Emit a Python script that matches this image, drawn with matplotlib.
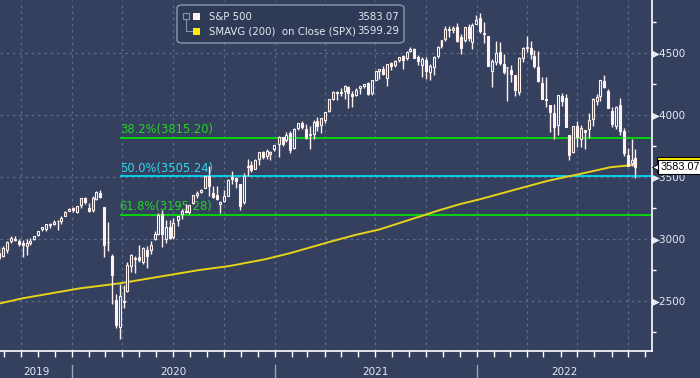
import numpy as np
import pandas as pd
import matplotlib
matplotlib.use("Agg")
import matplotlib.pyplot as plt
import matplotlib.dates as mdates
from matplotlib.patches import FancyBboxPatch, Rectangle
from matplotlib.ticker import MultipleLocator
import matplotlib.transforms as mtrans

# weekly S&P 500 candles (week ending)
dates = ["2019-08-23", "2019-08-30", "2019-09-06", "2019-09-13", "2019-09-20", "2019-09-27",
         "2019-10-04", "2019-10-11", "2019-10-18", "2019-10-25", "2019-11-01", "2019-11-08",
         "2019-11-15", "2019-11-22", "2019-11-29", "2019-12-06", "2019-12-13", "2019-12-20",
         "2019-12-27",
         "2020-01-03", "2020-01-10", "2020-01-17", "2020-01-24", "2020-01-31", "2020-02-07",
         "2020-02-14", "2020-02-21", "2020-02-28", "2020-03-06", "2020-03-13", "2020-03-20",
         "2020-03-27", "2020-04-03", "2020-04-09", "2020-04-17", "2020-04-24", "2020-05-01",
         "2020-05-08", "2020-05-15", "2020-05-22", "2020-05-29", "2020-06-05", "2020-06-12",
         "2020-06-19", "2020-06-26", "2020-07-02", "2020-07-10", "2020-07-17", "2020-07-24",
         "2020-07-31", "2020-08-07", "2020-08-14", "2020-08-21", "2020-08-28", "2020-09-04",
         "2020-09-11", "2020-09-18", "2020-09-25", "2020-10-02", "2020-10-09", "2020-10-16",
         "2020-10-23", "2020-10-30", "2020-11-06", "2020-11-13", "2020-11-20", "2020-11-27",
         "2020-12-04", "2020-12-11", "2020-12-18", "2020-12-24", "2020-12-31",
         "2021-01-08", "2021-01-15", "2021-01-22", "2021-01-29", "2021-02-05", "2021-02-12",
         "2021-02-19", "2021-02-26", "2021-03-05", "2021-03-12", "2021-03-19", "2021-03-26",
         "2021-04-01", "2021-04-09", "2021-04-16", "2021-04-23", "2021-04-30", "2021-05-07",
         "2021-05-14", "2021-05-21", "2021-05-28", "2021-06-04", "2021-06-11", "2021-06-18",
         "2021-06-25", "2021-07-02", "2021-07-09", "2021-07-16", "2021-07-23", "2021-07-30",
         "2021-08-06", "2021-08-13", "2021-08-20", "2021-08-27", "2021-09-03", "2021-09-10",
         "2021-09-17", "2021-09-24", "2021-10-01", "2021-10-08", "2021-10-15", "2021-10-22",
         "2021-10-29", "2021-11-05", "2021-11-12", "2021-11-19", "2021-11-26", "2021-12-03",
         "2021-12-10", "2021-12-17", "2021-12-23", "2021-12-31",
         "2022-01-07", "2022-01-14", "2022-01-21", "2022-01-28", "2022-02-04", "2022-02-11",
         "2022-02-18", "2022-02-25", "2022-03-04", "2022-03-11", "2022-03-18", "2022-03-25",
         "2022-04-01", "2022-04-08", "2022-04-14", "2022-04-22", "2022-04-29", "2022-05-06",
         "2022-05-13", "2022-05-20", "2022-05-27", "2022-06-03", "2022-06-10", "2022-06-17",
         "2022-06-24", "2022-07-01", "2022-07-08", "2022-07-15", "2022-07-22", "2022-07-29",
         "2022-08-05", "2022-08-12", "2022-08-19", "2022-08-26", "2022-09-02", "2022-09-09",
         "2022-09-16", "2022-09-23", "2022-09-30", "2022-10-07", "2022-10-14"]

opens = [2890, 2866, 2910, 2980, 3002, 2984, 2968, 2944, 2967, 2996, 3036, 3078, 3081, 3122, 3117,
         3144, 3142, 3183, 3227,
         3247, 3218, 3271, 3334, 3248, 3236, 3319, 3369, 3258, 2974, 2864, 2508, 2290, 2498, 2578,
         2782, 2845, 2855, 2815, 2915, 2913, 3004, 3038, 3199, 3000, 3094, 3018, 3155, 3201, 3224,
         3219, 3288, 3356, 3380, 3410, 3508, 3371, 3357, 3285, 3310, 3349, 3500, 3493, 3441, 3296,
         3584, 3600, 3567, 3645, 3699, 3666, 3684, 3723,
         3764, 3824, 3796, 3857, 3731, 3892, 3939, 3886, 3842, 3844, 3949, 3916, 3963, 4034, 4125,
         4183, 4185, 4191, 4228, 4169, 4159, 4216, 4230, 4255, 4174, 4285, 4352, 4372, 4296, 4417,
         4406, 4443, 4474, 4458, 4513, 4535, 4470, 4403, 4441, 4348, 4386, 4474, 4553, 4610, 4697,
         4689, 4712, 4628, 4602, 4713, 4587, 4733,
         4779, 4655, 4637, 4356, 4431, 4505, 4412, 4384, 4364, 4323, 4188, 4462, 4541, 4540, 4474,
         4385, 4255, 4130, 4081, 4013, 3920, 4153, 4134, 3838, 3700, 3913, 3804, 3880, 3883, 3966,
         4113, 4155, 4274, 4195, 4034, 3910, 4084, 3874, 3674, 3610, 3655]

highs = [2939, 2940, 2985, 3021, 3022, 3002, 2993, 3000, 3008, 3028, 3067, 3097, 3120, 3127, 3154,
         3150, 3183, 3226, 3248,
         3258, 3267, 3330, 3338, 3293, 3348, 3385, 3393, 3259, 3137, 2882, 2553, 2637, 2631, 2818,
         2880, 2865, 2955, 2939, 2945, 2981, 3068, 3211, 3233, 3155, 3155, 3166, 3187, 3238, 3280,
         3272, 3352, 3388, 3400, 3509, 3588, 3425, 3429, 3306, 3399, 3482, 3550, 3502, 3441, 3529,
         3646, 3628, 3645, 3700, 3713, 3726, 3711, 3760,
         3827, 3826, 3861, 3870, 3894, 3937, 3950, 3928, 3915, 3960, 3983, 3978, 4020, 4130, 4191,
         4194, 4219, 4238, 4237, 4190, 4214, 4234, 4249, 4262, 4286, 4356, 4372, 4394, 4415, 4429,
         4440, 4470, 4482, 4513, 4546, 4536, 4485, 4466, 4466, 4415, 4476, 4559, 4608, 4718, 4714,
         4718, 4743, 4652, 4713, 4732, 4740, 4808,
         4819, 4749, 4638, 4453, 4595, 4590, 4489, 4385, 4402, 4323, 4465, 4546, 4637, 4593, 4521,
         4513, 4308, 4308, 4082, 4091, 4158, 4177, 4169, 3839, 3913, 3950, 3918, 3880, 4013, 4140,
         4167, 4280, 4325, 4212, 4062, 4076, 4139, 3899, 3736, 3806, 3725]

lows = [2834, 2853, 2891, 2964, 2985, 2946, 2856, 2874, 2952, 2991, 3023, 3066, 3068, 3091, 3115,
        3071, 3124, 3183, 3222,
        3214, 3213, 3253, 3280, 3214, 3215, 3316, 3328, 2855, 2902, 2478, 2281, 2192, 2446, 2574,
        2731, 2727, 2816, 2798, 2766, 2878, 2989, 3031, 2936, 2965, 3004, 3000, 3102, 3163, 3206,
        3200, 3284, 3331, 3367, 3410, 3349, 3329, 3313, 3210, 3297, 3345, 3441, 3415, 3234, 3279,
        3511, 3543, 3567, 3594, 3646, 3648, 3636, 3710,
        3663, 3750, 3782, 3694, 3725, 3879, 3885, 3806, 3723, 3805, 3871, 3853, 3939, 4020, 4118,
        4118, 4151, 4128, 4057, 4062, 4150, 4167, 4220, 4165, 4165, 4280, 4289, 4321, 4233, 4360,
        4385, 4431, 4367, 4443, 4505, 4457, 4406, 4305, 4288, 4279, 4323, 4456, 4537, 4595, 4630,
        4660, 4585, 4495, 4590, 4600, 4531, 4733,
        4662, 4582, 4395, 4223, 4405, 4401, 4327, 4115, 4267, 4157, 4161, 4424, 4507, 4450, 4381,
        4267, 4129, 4063, 3859, 3810, 3838, 4074, 3900, 3637, 3690, 3740, 3744, 3722, 3818, 3910,
        4079, 4113, 4218, 4057, 3907, 3888, 3838, 3673, 3585, 3585, 3491]

closes = [2847, 2926, 2979, 3007, 2992, 2961, 2952, 2970, 2986, 3023, 3067, 3093, 3120, 3110, 3141,
          3146, 3169, 3221, 3240,
          3235, 3265, 3330, 3295, 3226, 3328, 3380, 3338, 2954, 2972, 2711, 2305, 2541, 2489, 2790,
          2875, 2837, 2831, 2930, 2864, 2955, 3044, 3194, 3041, 3098, 3009, 3130, 3185, 3225, 3216,
          3271, 3351, 3373, 3397, 3508, 3427, 3341, 3319, 3298, 3348, 3477, 3484, 3465, 3270, 3510,
          3585, 3558, 3638, 3699, 3663, 3709, 3703, 3756,
          3825, 3768, 3841, 3714, 3887, 3934, 3907, 3811, 3842, 3943, 3913, 3975, 4020, 4129, 4185,
          4180, 4181, 4233, 4174, 4156, 4204, 4230, 4247, 4166, 4281, 4352, 4370, 4327, 4412, 4395,
          4437, 4468, 4442, 4509, 4535, 4459, 4433, 4455, 4357, 4391, 4471, 4545, 4605, 4697, 4683,
          4698, 4595, 4538, 4712, 4620, 4726, 4766,
          4677, 4663, 4398, 4432, 4500, 4419, 4349, 4385, 4329, 4204, 4463, 4543, 4546, 4488, 4393,
          4272, 4132, 4123, 4024, 3901, 4158, 4109, 3901, 3675, 3912, 3825, 3899, 3863, 3962, 4130,
          4145, 4280, 4228, 4058, 3924, 4068, 3873, 3693, 3586, 3640, 3583.07]

# 200-week simple moving average
sma_dates = ["2019-08-24", "2019-10-04", "2020-01-15", "2020-03-28", "2020-06-08", "2020-08-18",
             "2020-10-11", "2020-12-14", "2021-01-28", "2021-04-11", "2021-05-26", "2021-07-10",
             "2021-08-22", "2021-10-08", "2021-10-22", "2021-12-02", "2022-01-06", "2022-03-20",
             "2022-05-08", "2022-06-12", "2022-07-06", "2022-08-29", "2022-10-14"]
sma_vals = [2481, 2522, 2602, 2643, 2697, 2750, 2782, 2836, 2885, 2978, 3032, 3078,
            3140, 3207, 3228, 3282, 3320, 3409, 3468, 3502, 3524, 3578, 3599.29]

fib_pcts = ["38.2%", "50.0%", "61.8%"]
fib_levels = [3815.20, 3505.24, 3195.28]
fib_colors = ["#00ee00", "#00e8ff", "#00ee00"]
fib_text_colors = ["#22d422", "#2fd6ea", "#22d422"]
fib_start = "2020-03-27"

last_price = 3583.07
last_sma = 3599.29

BG = "#34405e"
WHITE = "#fff2ee"
GRID = "#5d6d8e"
TXT = "#e4eaf2"

fig = plt.figure(figsize=(7, 3.78), dpi=100, facecolor=BG)
ax = fig.add_axes([0, 27 / 378, 652 / 700, 351 / 378], facecolor=BG)

d = mdates.date2num(pd.to_datetime(dates))
o = np.array(opens, float)
h = np.array(highs, float)
l = np.array(lows, float)
c = np.array(closes, float)
up = c >= o

# candles: hollow = up week, filled = down week
ax.vlines(d, l, h, color=WHITE, lw=1, zorder=3)
body = np.maximum(np.abs(c - o), 4)
ax.bar(d, body, bottom=np.minimum(o, c), width=3.6,
       color=[BG if u else WHITE for u in up], edgecolor=WHITE, lw=0.8, zorder=4)

# moving average
ax.plot(mdates.date2num(pd.to_datetime(sma_dates)), sma_vals, color="#e6d21a", lw=1.4, zorder=2.5)

x_left = mdates.date2num(pd.Timestamp("2019-08-24"))
x_right = mdates.date2num(pd.Timestamp("2022-11-13"))
ax.set_xlim(x_left, x_right)
ax.set_ylim(2097, 4927)

# fibonacci retracement lines
fx0 = mdates.date2num(pd.Timestamp(fib_start))
for pct, lev, col, tcol in zip(fib_pcts, fib_levels, fib_colors, fib_text_colors):
    ax.hlines(lev, fx0, x_right, color=col, lw=1.2, zorder=2)
    ax.text(fx0, lev + 12, f"{pct}({lev:.2f})", color=tcol, fontsize=8.3,
            ha="left", va="bottom", zorder=2)

# axes styling
for s in ["top", "left"]:
    ax.spines[s].set_visible(False)
for s in ["right", "bottom"]:
    ax.spines[s].set_color("white")
    ax.spines[s].set_linewidth(1.2)

ax.xaxis.set_major_locator(mdates.MonthLocator())
ax.xaxis.set_minor_locator(mdates.MonthLocator(bymonth=[1, 4, 7, 10]))
ax.xaxis.remove_overlapping_locs = False
ax.xaxis.set_major_formatter(plt.NullFormatter())
ax.tick_params(axis="x", which="major", length=4, width=1, color="white", direction="out")
ax.tick_params(axis="x", which="minor", length=0)
ax.grid(axis="x", which="minor", color=GRID, ls=(0, (2, 3)), lw=0.9)

ax.yaxis.tick_right()
ax.yaxis.set_major_locator(MultipleLocator(500))
ax.yaxis.set_minor_locator(MultipleLocator(250))
ax.yaxis.set_major_formatter(plt.FuncFormatter(lambda v, p: "\u25B6" + f"{int(v)}"))
ax.tick_params(axis="y", which="major", length=0, pad=0, labelsize=7.5, labelcolor=TXT)
ax.tick_params(axis="y", which="minor", length=3, width=1, color="white")
ax.grid(axis="y", which="major", color=GRID, ls=(0, (2, 3)), lw=0.9)

# year labels and separators below the axis
blend = mtrans.blended_transform_factory(ax.transData, ax.transAxes)
for yr in [2019, 2020, 2021, 2022]:
    a = max(mdates.date2num(pd.Timestamp(f"{yr}-01-01")), x_left)
    b = min(mdates.date2num(pd.Timestamp(f"{yr + 1}-01-01")), x_right)
    ax.text((a + b) / 2, -0.06, str(yr), transform=blend, ha="center", va="center",
            fontsize=7.5, color=TXT)
    if yr > 2019:
        ax.plot([a, a], [-0.04, -0.08], transform=blend, color="#9aa4b8", lw=1, clip_on=False)

# legend box
fig.patches.append(FancyBboxPatch((177 / 700, 1 - 43 / 378), 227 / 700, 38 / 378,
                                  boxstyle="round,pad=0,rounding_size=0.008",
                                  transform=fig.transFigure, fc="#2f3a56", ec="#8a98b2", lw=1))
fig.lines.append(plt.Line2D([186 / 700, 186 / 700, 192 / 700], [1 - 19 / 378, 1 - 31 / 378, 1 - 31 / 378],
                            transform=fig.transFigure, color="#8a94a8", lw=0.8))
fig.patches.append(Rectangle((183 / 700, 1 - 19 / 378), 6 / 700, 6 / 378, transform=fig.transFigure,
                             fc="none", ec="#8a94a8", lw=0.8))
fig.patches.append(Rectangle((193 / 700, 1 - 20 / 378), 7 / 700, 7 / 378, transform=fig.transFigure,
                             fc=WHITE, ec="none"))
fig.patches.append(Rectangle((193 / 700, 1 - 35 / 378), 7 / 700, 7 / 378, transform=fig.transFigure,
                             fc="#ffee00", ec="none"))
fig.text(209 / 700, 1 - 16.5 / 378, "S&P 500", color=TXT, fontsize=7.3, va="center")
fig.text(399 / 700, 1 - 16.5 / 378, f"{last_price:.2f}", color=TXT, fontsize=7.3, va="center", ha="right")
fig.text(209 / 700, 1 - 31.5 / 378, "SMAVG (200)  on Close (SPX)", color=TXT, fontsize=7.3, va="center")
fig.text(399 / 700, 1 - 31.5 / 378, f"{last_sma:.2f}", color=TXT, fontsize=7.3, va="center", ha="right")

# last value tags on the right axis (SMA tag peeks out behind the price tag)
ytag = mtrans.blended_transform_factory(ax.transAxes, ax.transData)
ax.add_patch(Rectangle((1.007, last_sma - 58), 0.068, 116, transform=ytag, fc="#ffee00",
                       ec="black", lw=0.8, clip_on=False, zorder=6))
ax.plot([1.005], [last_price], transform=ytag, marker="<", ms=4, color="white",
        mec="black", mew=0.6, clip_on=False, zorder=6.5)
ax.text(1.013, last_price, f"{last_price:.2f}", transform=ytag, family="Liberation Sans", size=7.8,
        color="black", va="center", ha="left", clip_on=False, zorder=7,
        bbox=dict(boxstyle="square,pad=0.2", fc="white", ec="black", lw=0.8))

fig.savefig("out.png", dpi=100, facecolor=BG)
